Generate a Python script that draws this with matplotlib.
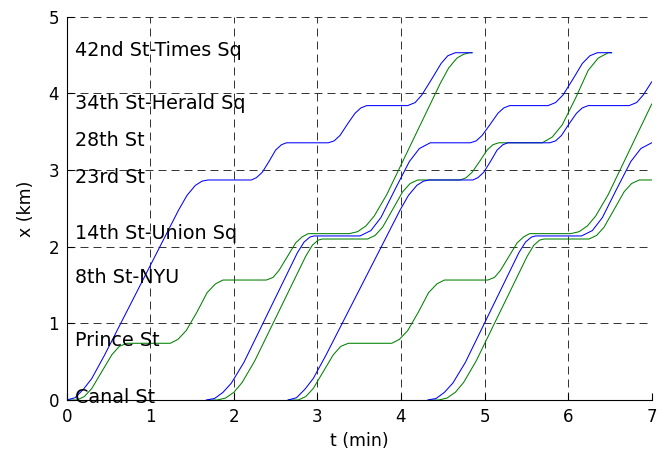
import matplotlib
matplotlib.use("Agg")
import matplotlib.pyplot as plt

# stations along the line, x in km
station_names = ["Canal St", "Prince St", "8th St-NYU", "14th St-Union Sq",
                 "23rd St", "28th St", "34th St-Herald Sq", "42nd St-Times Sq"]
station_km = [0.0, 0.74, 1.565, 2.14, 2.87, 3.355, 3.84, 4.53]

# train runs: t in min, x in km
blue1_t = [0.0, 0.1, 0.2, 0.3, 0.45, 1.34, 1.44, 1.54, 1.62, 1.69,
           2.21, 2.27, 2.34, 2.42, 2.50, 2.57, 2.63,
           3.13, 3.20, 3.27, 3.36, 3.45, 3.52, 3.59,
           4.08, 4.17, 4.25, 4.37, 4.48, 4.56, 4.65, 4.85]
blue1_x = [0.0, 0.03, 0.14, 0.28, 0.58, 2.48, 2.67, 2.80, 2.855, 2.87,
           2.87, 2.90, 2.97, 3.11, 3.26, 3.33, 3.355,
           3.355, 3.38, 3.45, 3.60, 3.74, 3.81, 3.84,
           3.84, 3.88, 3.98, 4.19, 4.39, 4.49, 4.53, 4.53]

blue2_t = [1.67, 1.77, 1.87, 1.97, 2.12, 2.76, 2.84, 2.91, 2.96,
           3.51, 3.64, 3.76, 3.93, 4.10, 4.22, 4.35,
           4.83, 4.90, 4.97, 5.07, 5.16, 5.23, 5.30,
           5.76, 5.85, 5.94, 6.06, 6.17, 6.26, 6.35, 6.52]
blue2_x = [0.0, 0.02, 0.10, 0.22, 0.49, 1.92, 2.06, 2.125, 2.14,
           2.14, 2.21, 2.38, 2.75, 3.11, 3.28, 3.355,
           3.355, 3.38, 3.45, 3.60, 3.74, 3.81, 3.84,
           3.84, 3.88, 3.98, 4.19, 4.39, 4.49, 4.53, 4.53]

blue3_t = [2.65, 2.75, 2.85, 2.95, 3.10, 3.99, 4.09, 4.19, 4.27, 4.34,
           4.86, 4.92, 4.99, 5.07, 5.15, 5.22, 5.28,
           5.78, 5.85, 5.92, 6.01, 6.10, 6.17, 6.24,
           6.73, 6.82, 6.90, 7.0]
blue3_x = [0.0, 0.03, 0.14, 0.28, 0.58, 2.48, 2.67, 2.80, 2.855, 2.87,
           2.87, 2.90, 2.97, 3.11, 3.26, 3.33, 3.355,
           3.355, 3.38, 3.45, 3.60, 3.74, 3.81, 3.84,
           3.84, 3.88, 3.98, 4.15]

blue4_t = [4.32, 4.42, 4.52, 4.62, 4.77, 5.41, 5.49, 5.56, 5.61,
           6.16, 6.29, 6.41, 6.58, 6.75, 6.87, 7.0]
blue4_x = [0.0, 0.02, 0.10, 0.22, 0.49, 1.92, 2.06, 2.125, 2.14,
           2.14, 2.21, 2.38, 2.75, 3.11, 3.28, 3.355]

green1_t = [0.0, 0.12, 0.21, 0.30, 0.42, 0.54, 0.63, 0.72,
            1.24, 1.33, 1.43, 1.56, 1.68, 1.78, 1.87,
            2.39, 2.47, 2.54, 2.64, 2.74, 2.82, 2.89,
            3.38, 3.48, 3.58, 3.68, 3.83, 4.47, 4.57, 4.67, 4.75, 4.82, 4.85]
green1_x = [0.0, 0.0, 0.044, 0.15, 0.37, 0.59, 0.70, 0.74,
            0.74, 0.79, 0.905, 1.15, 1.40, 1.515, 1.565,
            1.565, 1.60, 1.69, 1.87, 2.05, 2.13, 2.17,
            2.17, 2.195, 2.27, 2.40, 2.68, 4.13, 4.33, 4.46, 4.51, 4.53, 4.53]

green2_t = [1.69, 1.80, 1.90, 2.00, 2.10, 2.25, 2.86, 2.94, 3.01, 3.06,
            3.60, 3.69, 3.78, 3.90, 4.02, 4.11, 4.20,
            4.71, 4.78, 4.85, 4.94, 5.03, 5.10, 5.17,
            5.69, 5.81, 5.93, 6.09, 6.24, 6.36, 6.48, 6.52]
green2_x = [0.0, 0.0, 0.025, 0.10, 0.23, 0.51, 1.875, 2.02, 2.086, 2.10,
            2.10, 2.146, 2.254, 2.485, 2.716, 2.824, 2.87,
            2.87, 2.90, 2.97, 3.11, 3.26, 3.33, 3.355,
            3.355, 3.43, 3.59, 3.94, 4.30, 4.46, 4.53, 4.53]

green3_t = [2.65, 2.77, 2.86, 2.95, 3.07, 3.19, 3.28, 3.37,
            3.89, 3.98, 4.08, 4.21, 4.33, 4.43, 4.52,
            5.04, 5.12, 5.19, 5.29, 5.39, 5.47, 5.54,
            6.03, 6.13, 6.23, 6.33, 6.48, 7.0]
green3_x = [0.0, 0.0, 0.044, 0.15, 0.37, 0.59, 0.70, 0.74,
            0.74, 0.79, 0.905, 1.15, 1.40, 1.515, 1.565,
            1.565, 1.60, 1.69, 1.87, 2.05, 2.13, 2.17,
            2.17, 2.195, 2.27, 2.40, 2.68, 3.86]

green4_t = [4.34, 4.45, 4.55, 4.65, 4.75, 4.90, 5.51, 5.59, 5.66, 5.71,
            6.25, 6.34, 6.43, 6.55, 6.67, 6.76, 6.85, 7.0]
green4_x = [0.0, 0.0, 0.025, 0.10, 0.23, 0.51, 1.875, 2.02, 2.086, 2.10,
            2.10, 2.146, 2.254, 2.485, 2.716, 2.824, 2.87, 2.87]

green_runs = [(green1_t, green1_x), (green2_t, green2_x),
              (green3_t, green3_x), (green4_t, green4_x)]
blue_runs = [(blue1_t, blue1_x), (blue2_t, blue2_x),
             (blue3_t, blue3_x), (blue4_t, blue4_x)]


def main():
    fig = plt.figure(figsize=(6.65, 4.57), dpi=100)
    ax = fig.add_axes([0.1003, 0.1247, 0.8797, 0.8388])

    # greens first, blues end up on top where they share a platform
    for t, x in green_runs:
        ax.plot(t, x, color="#008000", lw=0.75)
    for t, x in blue_runs:
        ax.plot(t, x, color="#0000ff", lw=0.75)

    for name, y in zip(station_names, station_km):
        ax.text(0.1, y + 0.03, name, fontsize=13.8, ha="left", va="center")

    ax.set_xlim(0, 7)
    ax.set_ylim(0, 5)
    ax.set_xticks(range(8))
    ax.set_yticks(range(6))
    ax.set_xlabel("t (min)", fontsize=12.5, labelpad=4)
    ax.set_ylabel("x (km)", fontsize=12.5, labelpad=10)

    ax.grid(True, color="#111111", linestyle=(0, (9.6, 6)), linewidth=0.6)
    ax.spines["top"].set_visible(False)
    ax.spines["right"].set_visible(False)
    ax.tick_params(direction="in", length=5, labelsize=12)
    ax.tick_params(axis="x", pad=6)
    ax.tick_params(axis="y", pad=5.5)

    fig.savefig("out.png", dpi=100)


if __name__ == "__main__":
    main()
